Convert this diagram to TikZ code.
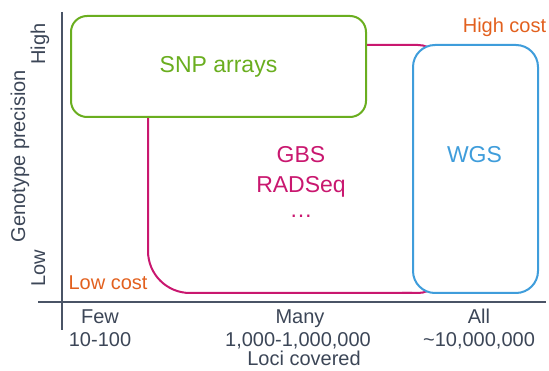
\documentclass[tikz,border=0pt]{standalone}
\usepackage{fontspec}
\setmainfont{Liberation Sans}
\definecolor{axisgray}{HTML}{4A5466}
\definecolor{labelgray}{HTML}{3C4657}
\definecolor{snpgreen}{HTML}{6AAE1F}
\definecolor{gbsmagenta}{HTML}{C9176F}
\definecolor{wgsblue}{HTML}{3F9DDB}
\definecolor{costorange}{HTML}{E2601E}
\begin{document}
\begin{tikzpicture}[x=1pt,y=-1pt,
  axisline/.style={draw=axisgray,line width=2pt},
  methodbox/.style={rounded corners=#1,line width=2pt,fill=white,inner sep=0pt},
  bigtext/.style={font=\fontsize{23}{27}\selectfont,anchor=base},
  smalltext/.style={font=\fontsize{20}{24}\selectfont,anchor=base,text=labelgray},
  costtext/.style={font=\fontsize{20}{24}\selectfont,anchor=base,text=costorange}]
\useasboundingbox (0,0) rectangle (549,371);

% axes
\coordinate (ytop) at (62,12);
\coordinate (ybot) at (62,330);
\coordinate (xleft) at (38,302);
\coordinate (xright) at (546,302);
\draw[axisline] (ytop) -- (ybot);
\draw[axisline] (xleft) -- (xright);

% GBS / RADSeq region (partly covered by the other boxes)
\coordinate (gbsTL) at (148,45);
\coordinate (gbsBL) at (148,293);
\coordinate (gbsBR) at (442,293);
\coordinate (gbsTR) at (442,45);
\draw[gbsmagenta,line width=2pt,rounded corners=24] (gbsBR) -- (gbsTR) -- (gbsTL);
\draw[gbsmagenta,line width=2pt,rounded corners=42] (gbsTL) -- (gbsBL) -- ([xshift=-30pt]gbsBR);
\draw[gbsmagenta,line width=2pt,rounded corners=24] ([xshift=-40pt]gbsBR) -- (gbsBR) -- ([yshift=40pt]gbsBR);

% WGS box
\node[methodbox=22,draw=wgsblue,minimum width=125,minimum height=248] (wgs) at (475.5,169) {};
% SNP arrays box
\node[methodbox=16,draw=snpgreen,minimum width=295,minimum height=101,
      font=\fontsize{23}{27}\selectfont,text=snpgreen] (snp) at (218.5,66.5) {SNP arrays};

% method labels
\node[bigtext,text=wgsblue] (wgslabel) at (474.5,163) {WGS};
\node[bigtext,text=gbsmagenta] (gbs) at (301,163) {GBS};
\node[bigtext,text=gbsmagenta] (radseq) at (301,193) {RADSeq};
\node[bigtext,text=gbsmagenta] (more) at (301,218) {\dots};

% cost labels
\node[costtext] (highcost) at (504.5,33) {High cost};
\node[costtext] (lowcost) at (108,290) {Low cost};

% x axis labels
\node[smalltext] (few) at (100,324) {Few};
\node[smalltext] (fewn) at (100,347) {10-100};
\node[smalltext] (many) at (300,324) {Many};
\node[smalltext] (manyn) at (298,347) {1,000-1,000,000};
\node[smalltext] (all) at (479,324) {All};
\node[smalltext] (alln) at (479,347) {\char"007E 10,000,000};
\node[smalltext] (xtitle) at (304,366) {Loci covered};

% y axis labels
\node[smalltext,rotate=90] (ytitle) at (25,156) {Genotype precision};
\node[smalltext,rotate=90] (high) at (45,44) {High};
\node[smalltext,rotate=90] (low) at (45,268) {Low};
\end{tikzpicture}
\end{document}
